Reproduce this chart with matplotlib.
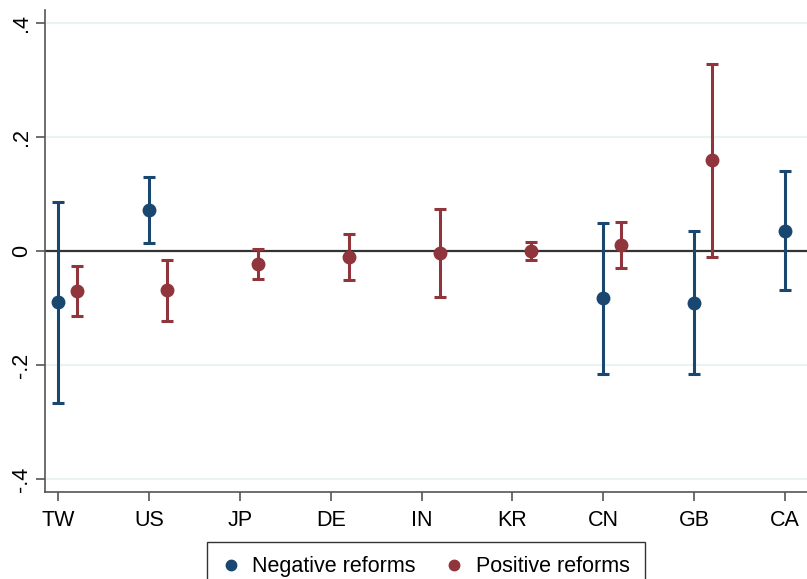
import numpy as np
import matplotlib
matplotlib.use("Agg")
import matplotlib.pyplot as plt
from matplotlib.lines import Line2D

plt.rcParams['font.family'] = ['Liberation Sans', 'DejaVu Sans']

# Country codes along the x axis
countries = ["TW", "US", "JP", "DE", "IN", "KR", "CN", "GB", "CA"]

# Negative reforms: point estimates and 95% CI bounds (None = not estimated)
neg_coef = [-0.090, 0.072, None, None, None, None, -0.083, -0.091, 0.036]
neg_lo = [-0.267, 0.015, None, None, None, None, -0.215, -0.216, -0.068]
neg_hi = [0.087, 0.130, None, None, None, None, 0.050, 0.036, 0.140]

# Positive reforms
pos_coef = [-0.070, -0.069, -0.023, -0.011, -0.003, 0.000, 0.011, 0.160, None]
pos_lo = [-0.114, -0.122, -0.049, -0.051, -0.080, -0.015, -0.029, -0.010, None]
pos_hi = [-0.026, -0.016, 0.004, 0.030, 0.074, 0.016, 0.051, 0.328, None]

navy = "#1a476f"
maroon = "#90353b"

fig = plt.figure(figsize=(8.07, 5.79), dpi=100)
ax = fig.add_axes([45 / 807, 86.7 / 579, 1 - 45 / 807, 482.3 / 579])

x = np.arange(1, len(countries) + 1)


def draw_series(offset, coef, lo, hi, color):
    idx = [i for i, c in enumerate(coef) if c is not None]
    xs = x[idx] + offset
    c = np.array([coef[i] for i in idx])
    l = np.array([lo[i] for i in idx])
    h = np.array([hi[i] for i in idx])
    ax.errorbar(xs, c, yerr=[c - l, h - c], fmt="o", color=color,
                ms=9, elinewidth=2.2, capsize=4.5, capthick=2.2, zorder=3)


ax.axhline(0, color="#333333", lw=1.6, zorder=2)
for g in [-0.4, -0.2, 0.2, 0.4]:
    ax.axhline(g, color="#eaf2f3", lw=1.5, zorder=1)

draw_series(0.0, neg_coef, neg_lo, neg_hi, navy)
draw_series(0.2, pos_coef, pos_lo, pos_hi, maroon)

ax.set_xlim(0.853, 9.245)
ax.set_ylim(-0.423, 0.423)
ax.set_xticks(x)
ax.set_xticklabels(countries)
yt = [-0.4, -0.2, 0, 0.2, 0.4]
ax.set_yticks(yt)
ax.set_yticklabels(["-.4", "-.2", "0", ".2", ".4"], rotation=90, va="center")
ax.tick_params(axis="both", labelsize=15.5, length=6.5, width=1.2,
               color="#555555", pad=6)
ax.tick_params(axis="y", pad=3)

for s in ["top", "right"]:
    ax.spines[s].set_visible(False)
for s in ["left", "bottom"]:
    ax.spines[s].set_color("#555555")
    ax.spines[s].set_linewidth(1.2)

handles = [
    Line2D([], [], marker="o", ls="", color=navy, ms=7.5),
    Line2D([], [], marker="o", ls="", color=maroon, ms=7.5),
]
fig.legend(handles, ["Negative reforms", "Positive reforms"],
           loc="upper center", bbox_to_anchor=(426 / 807, 37.3 / 579),
           ncol=2, fontsize=15.5, frameon=True, fancybox=False,
           edgecolor="#333333", framealpha=1, handlelength=0.8,
           handletextpad=0.6, columnspacing=1.4, borderpad=0.68,
           borderaxespad=0)

fig.savefig("out.png", dpi=100)
